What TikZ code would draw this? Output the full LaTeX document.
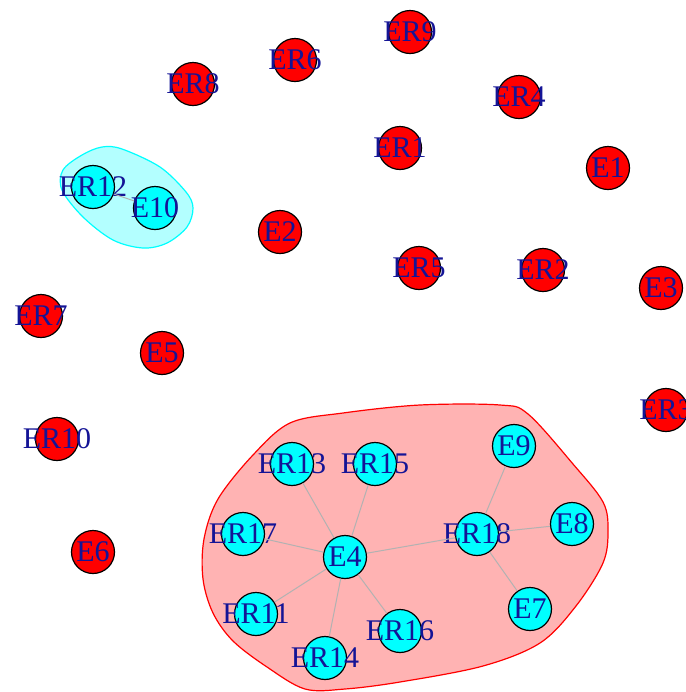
\documentclass[tikz,border=0pt]{standalone}
\usepackage{fontspec}
\setmainfont{Liberation Serif}
\usepackage{tikz}
\usetikzlibrary{positioning,calc}

\definecolor{labelblue}{RGB}{20,20,150}
\definecolor{vcyan}{RGB}{0,255,255}
\definecolor{vred}{RGB}{255,0,0}
\definecolor{hullred}{RGB}{255,179,179}
\definecolor{hullcyan}{RGB}{179,255,255}

\begin{document}
\begin{tikzpicture}[
    x=0.5pt, y=-0.5pt,
    vert/.style={circle, draw=black, line width=0.6pt, inner sep=0pt, minimum size=21.5pt, text=labelblue,
        font=\fontsize{15}{16}\selectfont,
        execute at begin node={\hbox to 0pt\bgroup\hss}, execute at end node={\hss\egroup}},
    iso/.style={vert, fill=vred},
    grp/.style={vert, fill=vcyan},
    link/.style={draw=gray!60, line width=0.5pt},
    hull/.style={line width=0.6pt}
]
\useasboundingbox (0,0) rectangle (686,692);

% group hulls
\draw[hull, draw=vred, fill=hullred] plot[smooth cycle, tension=0.55] coordinates {
    (343,413) (420,405) (500,405) (528,414) (573,464) (603,502) (608,531) (603,563)
    (576,606) (540,643) (483,666) (400,682) (345,689) (305,689) (267,667) (233,641)
    (213,613) (203,579) (204,539) (218,499) (253,455) (290,423)};
\draw[hull, draw=vcyan, fill=hullcyan] plot[smooth cycle, tension=0.55] coordinates {
    (63,170) (82,155) (102,147) (122,149) (160,167) (186,192) (193,208) (187,227)
    (167,243) (143,248) (113,240) (83,217) (62,190)};

% isolated vertices
\node[iso] (ER9) at (410,32) {ER9};
\node[iso] (ER6) at (295,60) {ER6};
\node[iso] (ER8) at (193,84) {ER8};
\node[iso] (ER4) at (519,97) {ER4};
\node[iso] (ER1) at (400,148) {ER1};
\node[iso] (E1) at (608,168) {E1};
\node[iso] (E2) at (280,232) {E2};
\node[iso] (ER5) at (419,268) {ER5};
\node[iso] (ER2) at (543,270) {ER2};
\node[iso] (E3) at (661,288) {E3};
\node[iso] (ER7) at (41,316) {ER7};
\node[iso] (E5) at (162,353) {E5};
\node[iso] (ER3) at (666,410) {ER3};
\node[iso] (ER10) at (57,439) {ER10};
\node[iso] (E6) at (93,552) {E6};

% small group
\node[grp] (ER12) at (93,187) {ER12};
\node[grp] (E10) at (155,208) {E10};

% large group
\node[grp] (E4) at (345,557) {E4};
\node[grp] (ER13) at (292,464) {ER13};
\node[grp] (ER15) at (375,464) {ER15};
\node[grp] (ER17) at (243,534) {ER17};
\node[grp] (ER11) at (256,614) {ER11};
\node[grp] (ER14) at (325,658) {ER14};
\node[grp] (ER16) at (400,631) {ER16};
\node[grp] (ER18) at (477,534) {ER18};
\node[grp] (E9) at (514,446) {E9};
\node[grp] (E8) at (572,524) {E8};
\node[grp] (E7) at (530,609) {E7};

% edges
\foreach \v in {ER13,ER15,ER17,ER11,ER14,ER16,ER18}
    \path[link] (E4) -- (\v);
\foreach \v in {E9,E8,E7}
    \path[link] (ER18) -- (\v);
\path[link] (ER12) -- (E10);

\end{tikzpicture}
\end{document}
